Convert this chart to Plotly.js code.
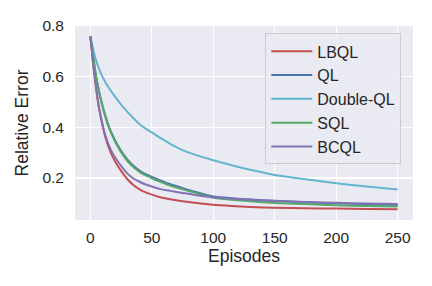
<!DOCTYPE html>
<html>
<head>
<meta charset="utf-8">
<script src="https://cdn.plot.ly/plotly-3.0.1.min.js"></script>
<style>
  html, body { margin: 0; padding: 0; background: #ffffff; }
  #chart { width: 432px; height: 286px; }
</style>
</head>
<body>
<div id="chart"></div>
<script>
const episodes = [0, 2, 4, 6, 8, 10, 12, 15, 18, 21, 25, 30, 35, 40, 45, 50, 57, 65, 75, 85, 100, 115, 130, 150, 175, 200, 225, 250];

const lbql     = [0.76, 0.66, 0.58, 0.505, 0.45, 0.405, 0.365, 0.32, 0.285, 0.258, 0.228, 0.196, 0.172, 0.155, 0.143, 0.134, 0.124, 0.116, 0.108, 0.102, 0.094, 0.089, 0.085, 0.082, 0.080, 0.079, 0.077, 0.076];
const ql       = [0.76, 0.69, 0.62, 0.567, 0.522, 0.483, 0.448, 0.404, 0.37, 0.34, 0.307, 0.273, 0.248, 0.229, 0.215, 0.204, 0.19, 0.175, 0.16, 0.146, 0.127, 0.12, 0.115, 0.11, 0.104, 0.10, 0.096, 0.093];
const doubleQl = [0.76, 0.715, 0.675, 0.645, 0.62, 0.598, 0.58, 0.556, 0.535, 0.515, 0.49, 0.462, 0.436, 0.412, 0.395, 0.38, 0.358, 0.335, 0.31, 0.292, 0.27, 0.25, 0.232, 0.212, 0.195, 0.179, 0.166, 0.154];
const sql      = [0.76, 0.69, 0.62, 0.565, 0.52, 0.48, 0.445, 0.40, 0.365, 0.335, 0.302, 0.268, 0.243, 0.224, 0.21, 0.199, 0.185, 0.17, 0.155, 0.142, 0.122, 0.114, 0.108, 0.101, 0.097, 0.092, 0.089, 0.087];
const bcql     = [0.76, 0.665, 0.585, 0.51, 0.455, 0.41, 0.37, 0.33, 0.298, 0.275, 0.248, 0.218, 0.198, 0.185, 0.174, 0.166, 0.156, 0.149, 0.141, 0.133, 0.124, 0.118, 0.114, 0.109, 0.105, 0.102, 0.099, 0.097];

const seriesNames = ["LBQL", "QL", "Double-QL", "SQL", "BCQL"];
const seriesValues = [lbql, ql, doubleQl, sql, bcql];
const seriesColors = ["#C44E52", "#4C72B0", "#64B5CD", "#55A868", "#8172B2"];

const xTicks = [0, 50, 100, 150, 200, 250];
const yTicks = [0.2, 0.4, 0.6, 0.8];
const yTickText = ["0.2", "0.4", "0.6", "0.8"];

const FONT = "Liberation Sans, Arial, Helvetica, sans-serif";
const TXT = "#262626";

const traces = seriesNames.map((name, i) => ({
  x: episodes,
  y: seriesValues[i],
  type: "scatter",
  mode: "lines",
  name: name,
  line: { color: seriesColors[i], width: 2, shape: "spline", smoothing: 0.6 }
}));

const layout = {
  width: 432,
  height: 286,
  margin: { l: 75, r: 19, t: 26, b: 66 },
  paper_bgcolor: "#ffffff",
  plot_bgcolor: "#EAEAF2",
  font: { family: FONT, color: TXT, size: 15.5 },
  showlegend: true,
  legend: {
    x: 0.563, y: 0.962, xanchor: "left", yanchor: "top",
    bgcolor: "rgba(234,234,242,0.8)",
    bordercolor: "#CCCCCC",
    borderwidth: 1,
    itemwidth: 41,
    font: { family: FONT, size: 16, color: TXT },
    tracegroupgap: 0
  },
  xaxis: {
    range: [-12.5, 262.5],
    tickvals: xTicks,
    ticktext: xTicks.map(String),
    showgrid: true,
    gridcolor: "#ffffff",
    gridwidth: 1.3,
    zeroline: false,
    showline: false,
    ticks: "",
    ticklabelstandoff: 6,
    tickfont: { family: FONT, size: 15.5, color: TXT },
    title: { text: "Episodes", font: { family: FONT, size: 17.5, color: TXT }, standoff: 3 }
  },
  yaxis: {
    range: [0.034, 0.8],
    tickvals: yTicks,
    ticktext: yTickText,
    showgrid: true,
    gridcolor: "#ffffff",
    gridwidth: 1.3,
    zeroline: false,
    showline: false,
    ticks: "",
    ticklabelstandoff: 10,
    tickfont: { family: FONT, size: 15.5, color: TXT },
    title: { text: "Relative Error", font: { family: FONT, size: 17.5, color: TXT }, standoff: 9 }
  }
};

Plotly.newPlot("chart", traces, layout, { staticPlot: true, displayModeBar: false });
</script>
</body>
</html>
